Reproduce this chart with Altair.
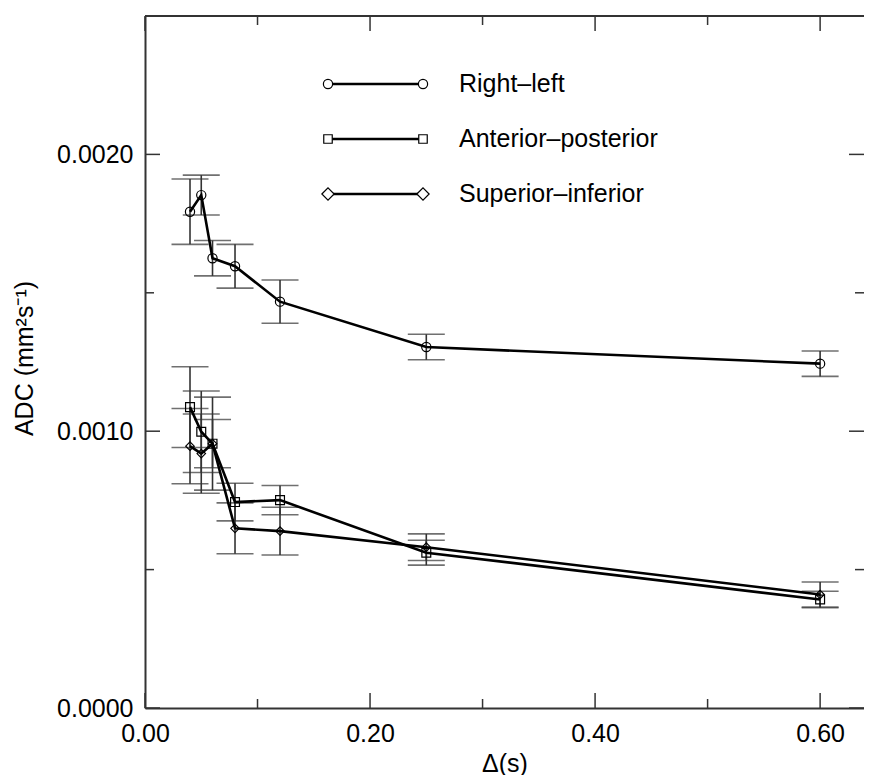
import altair as alt
import pandas as pd

# ---- data ----
delta = [0.04, 0.05, 0.06, 0.08, 0.12, 0.25, 0.60]
series = ["Right\u2013left", "Anterior\u2013posterior", "Superior\u2013inferior"]
rl_adc = [0.001793, 0.001853, 0.001625, 0.001596, 0.001468, 0.001304, 0.001244]
rl_err = [0.000118, 0.000072, 0.000064, 0.000079, 0.000078, 0.000046, 0.000046]
ap_adc = [0.001087, 0.000998, 0.000955, 0.000744, 0.000751, 0.000561, 0.000392]
ap_err = [0.000146, 0.000147, 0.000168, 0.000068, 0.000053, 0.000045, 0.000030]
si_adc = [0.000946, 0.000919, 0.000955, 0.000649, 0.000639, 0.000581, 0.000410]
si_err = [0.000136, 0.000143, 0.000087, 0.000092, 0.000086, 0.000048, 0.000045]
shapes = ["circle", "square", "diamond"]
marker_sizes = [85, 72, 150]
x_major = [0.0, 0.2, 0.4, 0.6]
x_minor = [0.1, 0.3, 0.5]
y_major = [0.0, 0.001, 0.002]
y_minor = [0.0005, 0.0015]
x_labels_fmt = ".2f"
y_labels_fmt = ".4f"

W, H = 719, 692
XDOM = [0, 0.639]
YDOM = [0, 0.0025]
FONT = "Liberation Sans"
FS = 25
INK = "#333333"

rows = []
for name, vals, errs in [(series[0], rl_adc, rl_err), (series[1], ap_adc, ap_err), (series[2], si_adc, si_err)]:
    for d, v, e in zip(delta, vals, errs):
        rows.append({"series": name, "delta": d, "adc": v, "lo": v - e, "hi": v + e})
df = pd.DataFrame(rows)

xs = alt.Scale(domain=XDOM, nice=False, zero=False)
ys = alt.Scale(domain=YDOM, nice=False, zero=False)

XAX = alt.Axis(values=x_major, format=x_labels_fmt, grid=False, ticks=False, domain=True,
               domainColor=INK, domainWidth=2, labelFlush=False,
               labelPadding=13, labelFont=FONT, labelFontSize=FS, labelColor="black",
               title="\u0394(s)", titleFont=FONT, titleFontSize=FS, titleFontWeight="normal",
               titleColor="black", titleY=55, titleBaseline="middle")
YAX = alt.Axis(values=y_major, format=y_labels_fmt, grid=False, ticks=False, domain=True,
               domainColor=INK, domainWidth=2, labelFlush=False,
               labelPadding=12, labelFont=FONT, labelFontSize=FS, labelColor="black",
               title="ADC (mm\u00b2s\u207b\u00b9)", titleFont=FONT, titleFontSize=FS,
               titleFontWeight="normal", titleColor="black", titleX=-121, titleY=H / 2 - 4,
               titleAngle=-90, titleAlign="center", titleBaseline="middle")


def X(field):
    return alt.X(field, scale=xs, axis=XAX)


def Y(field):
    return alt.Y(field, scale=ys, axis=YAX)


layers = []

# top frame line
one = pd.DataFrame({"a": [0]})
layers.append(alt.Chart(one).mark_rule(color=INK, strokeWidth=2).encode(
    x=alt.value(0), x2=alt.value(W), y=alt.value(0)))


# inward ticks on all four sides
def xticks(vals, length):
    d = pd.DataFrame({"t": vals})
    b = alt.Chart(d).mark_rule(color=INK, strokeWidth=1.5)
    return [
        b.encode(x=X("t:Q"), y=alt.value(H), y2=alt.value(H - length)),
        b.encode(x=X("t:Q"), y=alt.value(0), y2=alt.value(length)),
    ]


def yticks(vals, length):
    d = pd.DataFrame({"t": vals})
    b = alt.Chart(d).mark_rule(color=INK, strokeWidth=1.5)
    return [
        b.encode(y=Y("t:Q"), x=alt.value(0), x2=alt.value(length)),
        b.encode(y=Y("t:Q"), x=alt.value(W), x2=alt.value(W - length)),
    ]


layers += xticks(x_major, 15) + xticks(x_minor, 9) + yticks(y_major, 15) + yticks(y_minor, 9)

base = alt.Chart(df)
err = base.mark_rule(color=INK, strokeWidth=1.6).encode(
    x=X("delta:Q"), y=Y("lo:Q"), y2="hi:Q")
caps = base.transform_fold(["lo", "hi"], as_=["k", "val"]).mark_tick(
    orient="horizontal", size=37, thickness=1.6, color=INK).encode(
    x=X("delta:Q"), y=Y("val:Q"))
lines = base.mark_line(color="black", strokeWidth=2.6).encode(
    x=X("delta:Q"), y=Y("adc:Q"), detail="series:N", order="delta:Q")
pts = base.mark_point(filled=False, color="black", strokeWidth=1.2, opacity=1).encode(
    x=X("delta:Q"), y=Y("adc:Q"),
    shape=alt.Shape("series:N", scale=alt.Scale(domain=series, range=shapes), legend=None),
    size=alt.Size("series:N", scale=alt.Scale(domain=series, range=marker_sizes), legend=None))
layers += [err, caps, lines, pts]

# hand-drawn legend (line with a marker at each end, then the label)
for i, name in enumerate(series):
    yy = 68 + 55 * i
    layers.append(alt.Chart(one).mark_rule(color="black", strokeWidth=2.6).encode(
        x=alt.value(183), x2=alt.value(278), y=alt.value(yy)))
    for xx in (183, 278):
        layers.append(alt.Chart(one).mark_point(
            shape=shapes[i], size=marker_sizes[i], filled=True, fill="white",
            stroke="black", strokeWidth=1.2, opacity=1).encode(
            x=alt.value(xx), y=alt.value(yy)))
    layers.append(alt.Chart(pd.DataFrame({"label": [name]})).mark_text(
        align="left", baseline="middle", font=FONT, fontSize=FS, color="black").encode(
        x=alt.value(314), y=alt.value(yy), text="label:N"))

chart = alt.layer(*layers).properties(
    width=W, height=H,
    background="white",
    autosize=alt.AutoSizeParams(type="none"),
    padding={"left": 137, "top": 8, "right": 0, "bottom": 67},
).configure_view(stroke=None)

chart.save("out.html", embed_options={"renderer": "svg", "actions": False})
